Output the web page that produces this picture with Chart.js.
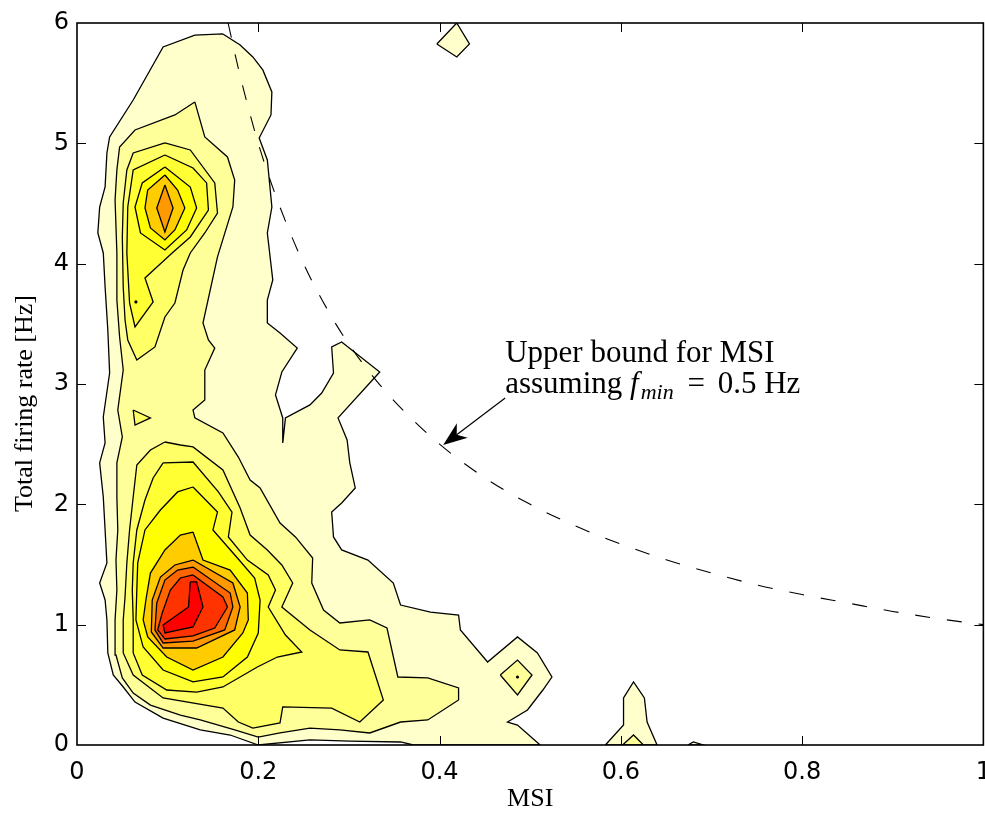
<!DOCTYPE html>
<html><head><meta charset="utf-8">
<script src="https://cdn.jsdelivr.net/npm/chart.js@4.4.1/dist/chart.umd.min.js"></script>
<style>html,body{margin:0;padding:0;background:#fff;overflow:hidden}#wrap{width:985px;height:817px;overflow:hidden;position:relative;background:#fff}canvas{display:block}</style>
</head><body><div id="wrap"><canvas id="c" width="1004" height="817" style="width:1004px;height:817px"></canvas></div>
<script>
// ---------- data (axes units: x = MSI, y = total firing rate [Hz]) ----------
const X_TICKS = [0, 0.2, 0.4, 0.6, 0.8, 1];
const X_TICK_LABELS = ['0', '0.2', '0.4', '0.6', '0.8', '1'];
const Y_TICKS = [0, 1, 2, 3, 4, 5, 6];
const Y_TICK_LABELS = ['0', '1', '2', '3', '4', '5', '6'];
const X_TITLE = 'MSI';
const Y_TITLE = 'Total firing rate [Hz]      ';

// contour level 1 (outermost)
const L1_MAIN = [[0.161,5.909],[0.180,5.817],[0.194,5.718],[0.205,5.610],[0.215,5.427],[0.214,5.236],[0.201,5.044],[0.210,4.862],[0.215,4.471],[0.210,4.255],[0.216,3.864],[0.210,3.698],[0.210,3.507],[0.224,3.424],[0.243,3.299],[0.226,3.100],[0.219,2.909],[0.227,2.718],[0.227,2.510],[0.230,2.718],[0.257,2.826],[0.270,2.925],[0.283,3.091],[0.281,3.308],[0.292,3.349],[0.334,3.100],[0.288,2.718],[0.298,2.535],[0.301,2.344],[0.307,2.136],[0.292,2.011],[0.281,1.936],[0.283,1.729],[0.292,1.621],[0.321,1.537],[0.349,1.346],[0.357,1.163],[0.390,1.105],[0.421,1.080],[0.423,0.956],[0.453,0.690],[0.486,0.898],[0.508,0.765],[0.524,0.565],[0.514,0.457],[0.497,0.291],[0.475,0.191],[0.486,0.166],[0.511,0],[0.371,0],[0.357,0.025],[0.301,0.033],[0.257,0.042],[0.200,0],[0.169,0.083],[0.136,0.125],[0.095,0.224],[0.064,0.357],[0.051,0.482],[0.040,0.582],[0.034,0.765],[0.033,1.039],[0.031,1.205],[0.025,1.346],[0.033,1.513],[0.031,1.787],[0.029,2.061],[0.025,2.344],[0.031,2.510],[0.029,2.726],[0.036,3.091],[0.034,3.449],[0.031,3.806],[0.029,4.089],[0.023,4.255],[0.025,4.471],[0.031,4.637],[0.033,4.920],[0.036,5.053],[0.062,5.360],[0.095,5.801],[0.130,5.900]];
const L1_TOP = [[0.397,5.826],[0.419,6.0],[0.433,5.826],[0.419,5.718]];
const L1_SPIKE = [[0.583,0],[0.603,0.166],[0.603,0.391],[0.614,0.524],[0.626,0.391],[0.629,0.191],[0.640,0]];
const L1_BUMP = [[0.674,0],[0.680,0.025],[0.691,0]];

// level 2
const L2_MAIN = [[0.130,5.344],[0.141,5.053],[0.166,4.887],[0.174,4.695],[0.172,4.471],[0.155,4.056],[0.139,3.507],[0.145,3.366],[0.152,3.299],[0.141,3.116],[0.141,2.867],[0.128,2.784],[0.130,2.718],[0.161,2.593],[0.178,2.393],[0.191,2.202],[0.202,2.136],[0.224,1.845],[0.241,1.729],[0.260,1.554],[0.259,1.346],[0.272,1.122],[0.290,1.014],[0.323,1.039],[0.342,0.972],[0.354,0.565],[0.387,0.557],[0.421,0.474],[0.421,0.374],[0.387,0.208],[0.357,0.191],[0.323,0.100],[0.290,0.125],[0.257,0.141],[0.224,0.100],[0.200,0.066],[0.174,0.125],[0.136,0.208],[0.114,0.249],[0.081,0.332],[0.062,0.432],[0.050,0.557],[0.043,0.748],[0.042,1.039],[0.044,1.288],[0.043,1.537],[0.045,1.787],[0.044,2.061],[0.044,2.344],[0.050,2.560],[0.045,2.784],[0.051,3.116],[0.047,3.391],[0.044,3.698],[0.044,4.089],[0.042,4.529],[0.044,4.779],[0.047,4.970],[0.064,5.111],[0.108,5.236]];
const L2_DIAMOND = [[0.467,0.582],[0.486,0.706],[0.502,0.582],[0.486,0.416]];
const L2_SPIKE = [[0.602,0],[0.614,0.083],[0.625,0]];
const L2_HOLE = [[0.208,0.565],[0.227,0.623],[0.259,0.648],[0.281,0.565],[0.259,0.399],[0.227,0.399]];

// level 3
const L3_UPPER = [[0.097,5.003],[0.125,4.945],[0.152,4.671],[0.155,4.421],[0.141,4.255],[0.125,4.089],[0.117,3.947],[0.108,3.673],[0.097,3.557],[0.086,3.308],[0.066,3.200],[0.056,3.366],[0.053,3.532],[0.051,3.806],[0.050,4.222],[0.051,4.504],[0.055,4.779],[0.062,4.920]];
const L3_ISLAND = [[0.062,2.784],[0.081,2.718],[0.064,2.659]];
const L3_LOWER = [[0.097,2.518],[0.114,2.493],[0.128,2.477],[0.161,2.285],[0.180,1.970],[0.191,1.745],[0.210,1.621],[0.226,1.496],[0.238,1.346],[0.226,1.147],[0.257,0.956],[0.290,0.790],[0.321,0.773],[0.338,0.374],[0.312,0.191],[0.281,0.307],[0.227,0.316],[0.224,0.183],[0.194,0.141],[0.178,0.191],[0.161,0.307],[0.095,0.391],[0.062,0.582],[0.051,0.765],[0.051,1.039],[0.053,1.230],[0.055,1.513],[0.058,1.787],[0.062,2.061],[0.066,2.327],[0.081,2.452]];

// level 4
const L4_UPPER = [[0.097,4.903],[0.128,4.795],[0.143,4.671],[0.145,4.446],[0.125,4.222],[0.105,4.089],[0.075,3.881],[0.084,3.682],[0.064,3.474],[0.058,3.673],[0.055,4.089],[0.056,4.471],[0.062,4.779]];
const L4_LOWER = [[0.095,2.344],[0.128,2.352],[0.156,2.103],[0.171,1.936],[0.167,1.729],[0.188,1.537],[0.211,1.413],[0.219,1.288],[0.211,1.147],[0.230,0.914],[0.248,0.773],[0.221,0.731],[0.199,0.648],[0.161,0.482],[0.132,0.440],[0.099,0.457],[0.072,0.582],[0.062,0.765],[0.062,1.039],[0.061,1.288],[0.062,1.513],[0.066,1.787],[0.075,2.036],[0.084,2.219]];

// level 5
const L5_UPPER = [[0.097,4.803],[0.125,4.637],[0.132,4.463],[0.121,4.280],[0.097,4.114],[0.070,4.255],[0.064,4.471],[0.072,4.671]];
const L5_LOWER = [[0.128,2.144],[0.155,1.936],[0.150,1.787],[0.177,1.554],[0.196,1.388],[0.202,1.205],[0.200,0.931],[0.188,0.731],[0.161,0.565],[0.128,0.524],[0.095,0.623],[0.073,0.814],[0.065,1.039],[0.066,1.288],[0.067,1.513],[0.075,1.787],[0.092,1.953],[0.111,2.103]];

// level 6
const L6_UPPER = [[0.097,4.737],[0.111,4.612],[0.119,4.463],[0.108,4.280],[0.097,4.197],[0.081,4.297],[0.075,4.463],[0.078,4.612]];
const L6_LOWER = [[0.128,1.770],[0.139,1.537],[0.169,1.454],[0.188,1.263],[0.189,1.039],[0.183,0.931],[0.161,0.731],[0.128,0.623],[0.099,0.731],[0.078,0.898],[0.073,1.039],[0.076,1.205],[0.081,1.429],[0.097,1.621],[0.114,1.745]];

// level 7
const L7_UPPER = [[0.097,4.654],[0.106,4.463],[0.097,4.263],[0.088,4.463]];
const L7_LOWER = [[0.128,1.537],[0.172,1.346],[0.180,1.147],[0.174,0.956],[0.132,0.806],[0.095,0.806],[0.082,0.939],[0.083,1.205],[0.092,1.396],[0.108,1.496]];

// levels 8-10 (lower peak)
const L8_LOWER = [[0.128,1.479],[0.169,1.263],[0.172,1.147],[0.163,0.956],[0.128,0.864],[0.095,0.848],[0.086,0.956],[0.088,1.180],[0.097,1.371],[0.111,1.454]];
const L9_LOWER = [[0.128,1.413],[0.161,1.230],[0.166,1.147],[0.152,0.972],[0.128,0.906],[0.097,0.881],[0.089,0.956],[0.094,1.097],[0.103,1.288],[0.114,1.388]];
const L10_LOWER = [[0.125,1.355],[0.132,1.355],[0.139,1.147],[0.128,0.981],[0.097,0.931],[0.095,0.997],[0.123,1.147]];

// single-cell maxima (dots)
const PEAK_DOTS = [[0.065,3.682],[0.486,0.565]];

// dashed bound curve
const BOUND_X = [0.1667,0.18,0.2,0.22,0.25,0.28,0.3,0.33,0.36,0.4,0.45,0.5,0.55,0.6,0.65,0.7,0.75,0.8,0.85,0.9,0.95,1.0];
const BOUND_Y = [6,5.56,5,4.55,4,3.57,3.33,3.03,2.78,2.5,2.22,2,1.82,1.67,1.54,1.43,1.33,1.25,1.18,1.11,1.05,1];

// annotation
const NOTE_LINE1 = 'Upper bound for MSI';
const NOTE_LINE2 = ['assuming ', 'f', 'min', ' = ', '0.5 Hz'];
const NOTE_ANCHOR = [0.4724, 3.183, 2.925];      // x, baseline line 1, baseline line 2
const ARROW_FROM = [0.4724, 2.884];
const ARROW_TO = [0.404, 2.493];

// ---------- styling ----------
const LEVEL_FILL = ['#ffffcc','#ffff99','#ffff66','#ffff33','#ffff00','#ffcc00','#ff9900','#ff6600','#ff3300','#ff0000'];

const CONTOURS = [
  [1, L1_MAIN], [1, L1_TOP], [1, L1_SPIKE], [1, L1_BUMP],
  [2, L2_MAIN], [2, L2_DIAMOND], [2, L2_SPIKE],
  [3, L3_UPPER], [3, L3_LOWER], [3, L3_ISLAND],
  [2.5, L2_HOLE],
  [4, L4_UPPER], [4, L4_LOWER],
  [5, L5_UPPER], [5, L5_LOWER],
  [6, L6_UPPER], [6, L6_LOWER],
  [7, L7_UPPER], [7, L7_LOWER],
  [8, L8_LOWER], [9, L9_LOWER], [10, L10_LOWER]
];

const toXY = pts => pts.map(p => ({x: p[0], y: p[1]}));
const datasets = CONTOURS.map(([lvl, pts]) => {
  const colorLevel = lvl === 2.5 ? 2 : lvl;
  return {
    data: toXY(pts.concat([pts[0]])),
    fill: 'shape',
    backgroundColor: LEVEL_FILL[colorLevel - 1],
    borderColor: '#000',
    borderWidth: 1.3,
    pointRadius: 0,
    tension: 0,
    order: 110 - lvl * 10
  };
});
datasets.push({
  data: BOUND_X.map((x, i) => ({x, y: BOUND_Y[i]})),
  fill: false, borderColor: '#000', borderWidth: 1.1, borderDash: [15, 17],
  pointRadius: 0, cubicInterpolationMode: 'monotone', order: 1
});
datasets.push({
  data: toXY(PEAK_DOTS), showLine: false, pointRadius: 1.6, pointBackgroundColor: '#000',
  pointBorderWidth: 0, borderColor: '#000', order: 0
});

const framePlugin = {
  id: 'frame',
  afterDatasetsDraw(chart) {
    const {ctx, chartArea: a, scales: {x, y}} = chart;
    ctx.save();
    ctx.strokeStyle = '#000';
    ctx.lineWidth = 1;
    const tl = 9;
    ctx.beginPath();
    X_TICKS.slice(1, -1).forEach(v => {
      const p = Math.round(x.getPixelForValue(v)) + 0.5;
      ctx.moveTo(p, a.bottom); ctx.lineTo(p, a.bottom - tl);
      ctx.moveTo(p, a.top); ctx.lineTo(p, a.top + tl);
    });
    Y_TICKS.slice(1, -1).forEach(v => {
      const p = Math.round(y.getPixelForValue(v)) + 0.5;
      ctx.moveTo(a.left, p); ctx.lineTo(a.left + tl, p);
      ctx.moveTo(a.right, p); ctx.lineTo(a.right - tl, p);
    });
    ctx.stroke();
    ctx.lineWidth = 1.6;
    ctx.strokeRect(a.left, a.top, a.right - a.left, a.bottom - a.top);
    ctx.restore();
  }
};

const notePlugin = {
  id: 'note',
  afterDatasetsDraw(chart) {
    const {ctx, scales: {x, y}} = chart;
    ctx.save();
    ctx.fillStyle = '#000';
    ctx.textAlign = 'left';
    ctx.textBaseline = 'alphabetic';
    const px = x.getPixelForValue(NOTE_ANCHOR[0]);
    const b1 = y.getPixelForValue(NOTE_ANCHOR[1]);
    const b2 = y.getPixelForValue(NOTE_ANCHOR[2]);
    const F = '"Liberation Serif", "Times New Roman", serif';
    ctx.font = '31px ' + F;
    ctx.fillText(NOTE_LINE1, px, b1);
    const fonts = ['31px ' + F, 'italic 31px ' + F, 'italic 22px ' + F, '31px ' + F, '31px ' + F];
    const shifts = [0, 0, 6, 0, 0];
    const extra = [0, 2, 3, 5, 0];
    let cx = px;
    NOTE_LINE2.forEach((t, i) => {
      ctx.font = fonts[i];
      cx += (i === 3 ? 3 : 0);
      ctx.fillText(t, cx, b2 + shifts[i]);
      cx += ctx.measureText(t).width + extra[i];
    });
    // arrow
    const x0 = x.getPixelForValue(ARROW_FROM[0]), y0 = y.getPixelForValue(ARROW_FROM[1]);
    const x1 = x.getPixelForValue(ARROW_TO[0]), y1 = y.getPixelForValue(ARROW_TO[1]);
    const dx = x1 - x0, dy = y1 - y0, L = Math.hypot(dx, dy);
    const ux = dx / L, uy = dy / L, nx = -uy, ny = ux;
    const hl = 24, hw = 9, notch = 17;
    ctx.strokeStyle = '#000'; ctx.lineWidth = 1.2;
    ctx.beginPath(); ctx.moveTo(x0, y0); ctx.lineTo(x1 - ux * notch, y1 - uy * notch); ctx.stroke();
    ctx.beginPath();
    ctx.moveTo(x1, y1);
    ctx.lineTo(x1 - ux * hl + nx * hw, y1 - uy * hl + ny * hw);
    ctx.lineTo(x1 - ux * notch, y1 - uy * notch);
    ctx.lineTo(x1 - ux * hl - nx * hw, y1 - uy * hl - ny * hw);
    ctx.closePath();
    ctx.fill();
    ctx.restore();
  }
};

const findLabel = (ticks, labels) => v => {
  const i = ticks.findIndex(t => Math.abs(t - v) < 1e-6);
  return i >= 0 ? labels[i] : '';
};

new Chart(document.getElementById('c'), {
  type: 'line',
  data: { datasets },
  options: {
    responsive: false,
    animation: false,
    devicePixelRatio: 1,
    layout: { padding: { top: 23, right: 0, bottom: 0, left: 0 } },
    plugins: { legend: { display: false }, tooltip: { enabled: false } },
    scales: {
      x: {
        type: 'linear', min: 0, max: 1,
        grid: { display: false, drawTicks: false }, border: { display: false },
        ticks: { stepSize: 0.2, padding: 13, color: '#000', maxRotation: 0, autoSkip: false,
                 font: { family: '"DejaVu Sans"', size: 24 }, callback: findLabel(X_TICKS, X_TICK_LABELS) },
        title: { display: true, text: X_TITLE, color: '#000',
                 font: { family: '"Liberation Serif"', size: 26 }, padding: { top: 0, bottom: 2 } },
        afterFit(s) { s.height = 72; }
      },
      y: {
        type: 'linear', min: 0, max: 6,
        grid: { display: false, drawTicks: false }, border: { display: false },
        ticks: { stepSize: 1, padding: 8, color: '#000',
                 font: { family: '"DejaVu Sans"', size: 24 }, callback: findLabel(Y_TICKS, Y_TICK_LABELS) },
        title: { display: true, text: Y_TITLE, color: '#000',
                 font: { family: '"Liberation Serif"', size: 26 }, padding: { top: 10, bottom: 10 } },
        afterFit(s) { s.width = 77; }
      }
    }
  },
  plugins: [framePlugin, notePlugin]
});
</script></body></html>
